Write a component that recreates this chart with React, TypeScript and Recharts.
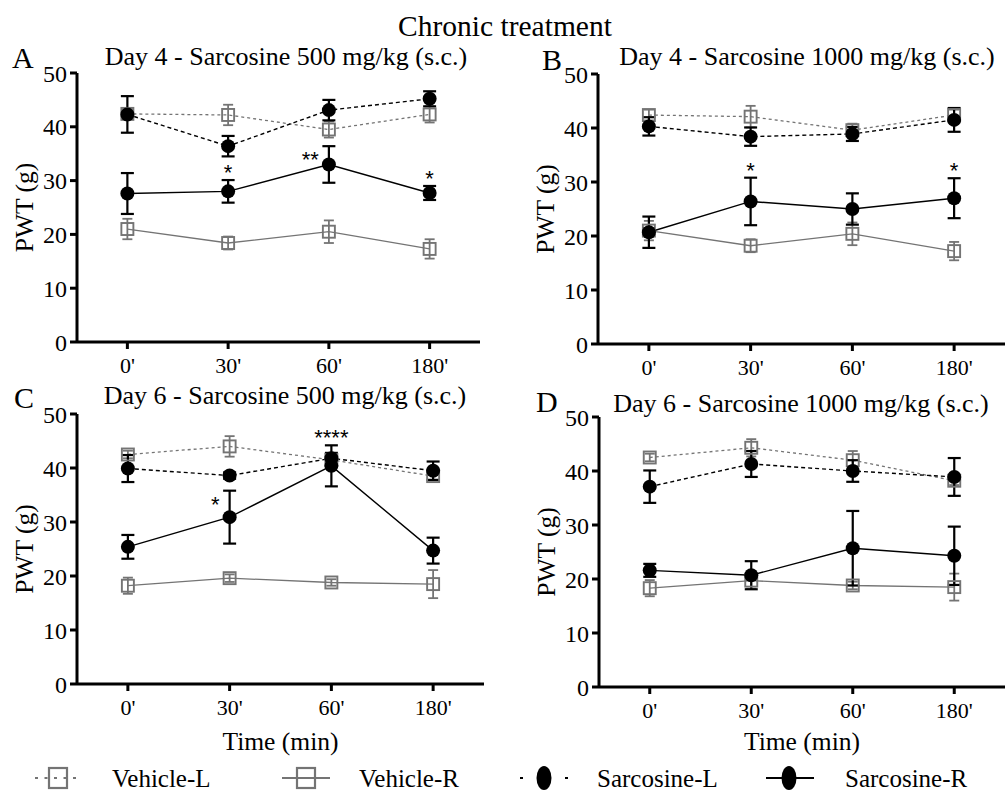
import React from 'react'
import { LineChart, Line, XAxis, YAxis, ErrorBar } from 'recharts'

const SERIF = "'Liberation Serif', 'Times New Roman', serif"
const SANS = "'Liberation Sans', Arial, sans-serif"
const GRAY = '#747474'

const TIMES = ["0'", "30'", "60'", "180'"]
const Y_TICKS = [0, 10, 20, 30, 40, 50]
const SERIES_NAMES = ['Vehicle-L', 'Vehicle-R', 'Sarcosine-L', 'Sarcosine-R']

// A - Day 4, sarcosine 500 mg/kg
const A_VEH_L = [42.4, 42.2, 39.5, 42.3]
const A_VEH_L_SEM = [1.0, 1.9, 1.5, 1.5]
const A_VEH_R = [21.0, 18.4, 20.5, 17.3]
const A_VEH_R_SEM = [1.9, 1.2, 2.1, 1.8]
const A_SAR_L = [42.3, 36.4, 43.1, 45.2]
const A_SAR_L_SEM = [3.4, 1.9, 1.9, 1.4]
const A_SAR_R = [27.6, 28.0, 33.0, 27.7]
const A_SAR_R_SEM = [3.8, 2.1, 3.4, 1.3]
const A_SIG = ['', '*', '**', '*']
const A_SIG_POS = ['top', 'top', 'left', 'top']

// B - Day 4, sarcosine 1000 mg/kg
const B_VEH_L = [42.4, 42.1, 39.6, 42.4]
const B_VEH_L_SEM = [1.0, 2.0, 1.2, 1.0]
const B_VEH_R = [21.0, 18.2, 20.4, 17.2]
const B_VEH_R_SEM = [1.8, 1.2, 2.1, 1.7]
const B_SAR_L = [40.3, 38.4, 38.9, 41.5]
const B_SAR_L_SEM = [1.7, 1.7, 1.3, 2.2]
const B_SAR_R = [20.7, 26.4, 25.0, 27.0]
const B_SAR_R_SEM = [2.9, 4.4, 2.9, 3.7]
const B_SIG = ['', '*', '', '*']
const B_SIG_POS = ['top', 'top', 'top', 'top']

// C - Day 6, sarcosine 500 mg/kg
const C_VEH_L = [42.5, 44.0, 41.5, 38.5]
const C_VEH_L_SEM = [0.7, 1.9, 1.2, 0.8]
const C_VEH_R = [18.2, 19.6, 18.8, 18.5]
const C_VEH_R_SEM = [1.5, 0.7, 0.6, 2.6]
const C_SAR_L = [39.9, 38.6, 41.8, 39.5]
const C_SAR_L_SEM = [2.5, 0.6, 1.0, 1.7]
const C_SAR_R = [25.4, 30.9, 40.4, 24.7]
const C_SAR_R_SEM = [2.2, 4.9, 3.8, 2.4]
const C_SIG = ['', '*', '****', '']
const C_SIG_POS = ['top', 'left', 'top', 'top']

// D - Day 6, sarcosine 1000 mg/kg
const D_VEH_L = [42.5, 44.3, 42.0, 38.2]
const D_VEH_L_SEM = [0.7, 1.6, 1.7, 0.8]
const D_VEH_R = [18.3, 19.7, 18.8, 18.5]
const D_VEH_R_SEM = [1.5, 1.5, 0.7, 2.5]
const D_SAR_L = [37.1, 41.3, 40.0, 38.9]
const D_SAR_L_SEM = [3.0, 2.4, 2.0, 3.5]
const D_SAR_R = [21.6, 20.7, 25.7, 24.3]
const D_SAR_R_SEM = [1.2, 2.6, 6.9, 5.4]
const D_SIG = ['', '', '', '']
const D_SIG_POS = ['top', 'top', 'top', 'top']

function buildRows(vl, vlE, vr, vrE, sl, slE, sr, srE, sig, sigPos) {
  return TIMES.map((t, i) => ({
    t,
    vl: vl[i], vlE: vlE[i],
    vr: vr[i], vrE: vrE[i],
    sl: sl[i], slE: slE[i],
    sr: sr[i], srE: srE[i],
    star: sr[i] + srE[i],
    sig: sig[i], sigPos: sigPos[i],
  }))
}

const PANELS = [
  {
    letter: 'A', title: 'Day 4 - Sarcosine 500 mg/kg (s.c.)',
    box: { left: 77, right: 480, top: 73, bottom: 342 },
    rows: buildRows(A_VEH_L, A_VEH_L_SEM, A_VEH_R, A_VEH_R_SEM, A_SAR_L, A_SAR_L_SEM, A_SAR_R, A_SAR_R_SEM, A_SIG, A_SIG_POS),
    letterPos: [12, 68], titlePos: [286, 65], xLabel: false,
  },
  {
    letter: 'B', title: 'Day 4 - Sarcosine 1000 mg/kg (s.c.)',
    box: { left: 598, right: 1005, top: 74, bottom: 344 },
    rows: buildRows(B_VEH_L, B_VEH_L_SEM, B_VEH_R, B_VEH_R_SEM, B_SAR_L, B_SAR_L_SEM, B_SAR_R, B_SAR_R_SEM, B_SIG, B_SIG_POS),
    letterPos: [542, 70], titlePos: [807, 65], xLabel: false,
  },
  {
    letter: 'C', title: 'Day 6 - Sarcosine 500 mg/kg (s.c.)',
    box: { left: 77, right: 484, top: 414, bottom: 684 },
    rows: buildRows(C_VEH_L, C_VEH_L_SEM, C_VEH_R, C_VEH_R_SEM, C_SAR_L, C_SAR_L_SEM, C_SAR_R, C_SAR_R_SEM, C_SIG, C_SIG_POS),
    letterPos: [14, 408], titlePos: [285, 404], xLabel: true,
  },
  {
    letter: 'D', title: 'Day 6 - Sarcosine 1000 mg/kg (s.c.)',
    box: { left: 599, right: 1005, top: 417, bottom: 687 },
    rows: buildRows(D_VEH_L, D_VEH_L_SEM, D_VEH_R, D_VEH_R_SEM, D_SAR_L, D_SAR_L_SEM, D_SAR_R, D_SAR_R_SEM, D_SIG, D_SIG_POS),
    letterPos: [536, 412], titlePos: [801, 412], xLabel: true,
  },
]

const squareDot = (p: any) => (
  <rect key={`sq-${p.index}`} x={p.cx - 6} y={p.cy - 6} width={12} height={12}
    fill="none" stroke={GRAY} strokeWidth={1.9} />
)

const starDot = (p: any) => {
  const { cx, cy, payload, index } = p
  if (!payload || !payload.sig || cy == null) return <g key={`st-${index}`} />
  const left = payload.sigPos === 'left'
  return (
    <text key={`st-${index}`} x={left ? cx - 10 : cx} y={left ? cy + 21 : cy}
      textAnchor={left ? 'end' : 'middle'} fontFamily={SANS} fontSize={22} fill="#000">
      {payload.sig}
    </text>
  )
}

function Panel({ cfg }: { cfg: any }) {
  const { left, right, top, bottom } = cfg.box
  const plotW = right - left
  const plotH = bottom - top
  const M = { top: 40, right: 2, left: 7, bottom: 20 }
  const YW = 70
  const XH = 50
  const width = plotW + M.left + YW + M.right
  const height = plotH + M.top + M.bottom + XH
  const pad = plotW / 8
  const axisStyle = { stroke: '#000', strokeWidth: 3 }
  return (
    <div style={{ position: 'absolute', left: left - M.left - YW, top: top - M.top }}>
      <LineChart width={width} height={height} data={cfg.rows} margin={M}>
        <XAxis dataKey="t" padding={{ left: pad, right: pad }} height={XH} interval={0}
          tickSize={7} tickMargin={8} axisLine={axisStyle} tickLine={axisStyle}
          tick={{ fontSize: 22, fill: '#000', fontFamily: SERIF }} />
        <YAxis domain={[0, 50]} ticks={Y_TICKS} width={YW} interval={0}
          tickSize={7} tickMargin={3} axisLine={axisStyle} tickLine={axisStyle}
          tick={{ fontSize: 24, fill: '#000', fontFamily: SERIF }} />
        <Line dataKey="vr" stroke={GRAY} strokeWidth={1.3} dot={squareDot} activeDot={false} isAnimationActive={false}>
          <ErrorBar dataKey="vrE" width={5} stroke={GRAY} strokeWidth={1.8} direction="y" />
        </Line>
        <Line dataKey="vl" stroke={GRAY} strokeWidth={1.3} strokeDasharray="3 3" dot={squareDot} activeDot={false} isAnimationActive={false}>
          <ErrorBar dataKey="vlE" width={5} stroke={GRAY} strokeWidth={1.8} direction="y" />
        </Line>
        <Line dataKey="sr" stroke="#000" strokeWidth={1.4} dot={{ r: 7, fill: '#000', stroke: '#000', strokeWidth: 0 }} activeDot={false} isAnimationActive={false}>
          <ErrorBar dataKey="srE" width={6.5} stroke="#000" strokeWidth={2.2} direction="y" />
        </Line>
        <Line dataKey="sl" stroke="#000" strokeWidth={1.4} strokeDasharray="4 3" dot={{ r: 7, fill: '#000', stroke: '#000', strokeWidth: 0 }} activeDot={false} isAnimationActive={false}>
          <ErrorBar dataKey="slE" width={6.5} stroke="#000" strokeWidth={2.2} direction="y" />
        </Line>
        <Line dataKey="star" stroke="none" dot={starDot} activeDot={false} isAnimationActive={false} />
      </LineChart>
    </div>
  )
}

const LEGEND_X = [
  { sym: 58, line: [35, 81], text: 112 },
  { sym: 306, line: [282, 330], text: 359 },
  { sym: 544, line: [520, 568], text: 597 },
  { sym: 789, line: [766, 814], text: 845 },
]

function Overlay() {
  const ly = 778
  return (
    <svg width={1007} height={791} style={{ position: 'absolute', left: 0, top: 0, pointerEvents: 'none' }}>
      <text x={505} y={36} textAnchor="middle" fontFamily={SERIF} fontSize={29.5}>Chronic treatment</text>
      {PANELS.map(p => {
        const midY = (p.box.top + p.box.bottom) / 2
        return (
          <g key={p.letter}>
            <text x={p.letterPos[0]} y={p.letterPos[1]} fontFamily={SERIF} fontSize={30}>{p.letter}</text>
            <text x={p.titlePos[0]} y={p.titlePos[1]} textAnchor="middle" fontFamily={SERIF} fontSize={26}>{p.title}</text>
            <text transform={`translate(${p.box.left - 44}, ${midY}) rotate(-90)`} textAnchor="middle"
              fontFamily={SERIF} fontSize={25.5}>PWT (g)</text>
            {p.xLabel && (
              <text x={(p.box.left + p.box.right) / 2} y={750} textAnchor="middle" fontFamily={SERIF} fontSize={25.5}>Time (min)</text>
            )}
          </g>
        )
      })}
      {/* legend */}
      <line x1={LEGEND_X[0].line[0]} x2={LEGEND_X[0].line[1]} y1={ly} y2={ly} stroke={GRAY} strokeWidth={2} strokeDasharray="3 6.5" />
      <rect x={LEGEND_X[0].sym - 9} y={ly - 10} width={18} height={20} fill="none" stroke={GRAY} strokeWidth={2.2} />
      <line x1={LEGEND_X[1].line[0]} x2={LEGEND_X[1].line[1]} y1={ly} y2={ly} stroke={GRAY} strokeWidth={2} />
      <rect x={LEGEND_X[1].sym - 9} y={ly - 10} width={18} height={20} fill="none" stroke={GRAY} strokeWidth={2.2} />
      <line x1={LEGEND_X[2].line[0]} x2={LEGEND_X[2].line[0] + 3} y1={ly} y2={ly} stroke="#000" strokeWidth={2} />
      <line x1={LEGEND_X[2].line[1] - 3} x2={LEGEND_X[2].line[1]} y1={ly} y2={ly} stroke="#000" strokeWidth={2} />
      <ellipse cx={LEGEND_X[2].sym} cy={ly} rx={7.5} ry={12} fill="#000" />
      <line x1={LEGEND_X[3].line[0]} x2={LEGEND_X[3].line[1]} y1={ly} y2={ly} stroke="#000" strokeWidth={2.2} />
      <ellipse cx={LEGEND_X[3].sym} cy={ly} rx={7.5} ry={12} fill="#000" />
      {SERIES_NAMES.map((name, i) => (
        <text key={name} x={LEGEND_X[i].text} y={787} fontFamily={SERIF} fontSize={25}>{name}</text>
      ))}
    </svg>
  )
}

export default function App() {
  return (
    <div style={{ position: 'absolute', left: 0, top: 0, width: 1007, height: 791, background: '#fff', fontFamily: SERIF }}>
      {PANELS.map(p => <Panel key={p.letter} cfg={p} />)}
      <Overlay />
    </div>
  )
}
